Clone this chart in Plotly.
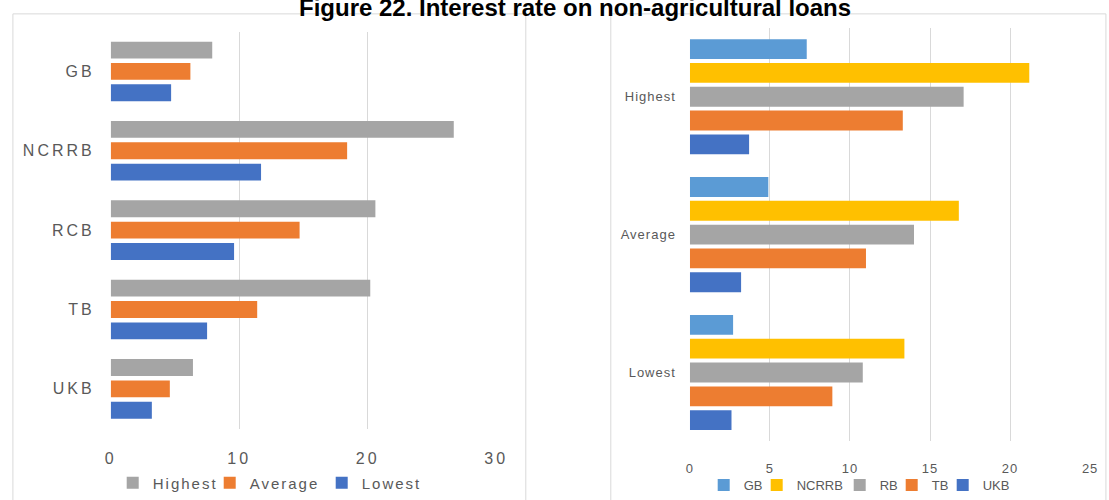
import plotly.graph_objects as go

# ---- data ----
left_banks = ["GB", "NCRRB", "RCB", "TB", "UKB"]
left_series = ["Highest", "Average", "Lowest"]
left_highest = [7.9, 26.7, 20.6, 20.2, 6.4]
left_average = [6.2, 18.4, 14.7, 11.4, 4.6]
left_lowest = [4.7, 11.7, 9.6, 7.5, 3.2]
left_ticks = [0, 10, 20, 30]

right_cats = ["Highest", "Average", "Lowest"]
right_series = ["GB", "NCRRB", "RB", "TB", "UKB"]
right_gb = [7.3, 4.9, 2.7]
right_ncrrb = [21.2, 16.8, 13.4]
right_rb = [17.1, 14.0, 10.8]
right_tb = [13.3, 11.0, 8.9]
right_ukb = [3.7, 3.2, 2.6]
right_ticks = [0, 5, 10, 15, 20, 25]

title = "Figure 22. Interest rate on non-agricultural loans"

W, H = 1109, 500
FONT = "Liberation Sans, Arial, sans-serif"
TXT = "#595959"
GRID = "#D9D9D9"

left_colors = ["#A5A5A5", "#ED7D31", "#4472C4"]
right_colors = ["#5B9BD5", "#FFC000", "#A5A5A5", "#ED7D31", "#4472C4"]
left_legend_widths = [52, 67, 62]
right_legend_widths = [8, 38, 7, 6, 30]

fig = go.Figure()

# left chart
left_vals = [left_highest, left_average, left_lowest]
lp, lw = 0.269, 0.2125
for i, (name, vals, col) in enumerate(zip(left_series, left_vals, left_colors)):
    fig.add_trace(go.Bar(
        x=vals, y=left_banks, orientation="h", name=name,
        marker=dict(color=col, line=dict(width=0)),
        width=lw, offset=(i - 1) * lp - lw / 2,
        xaxis="x", yaxis="y", legend="legend", legendwidth=left_legend_widths[i],
    ))

# right chart
right_vals = [right_gb, right_ncrrb, right_rb, right_tb, right_ukb]
rp, rw = 0.1727, 0.144
for i, (name, vals, col) in enumerate(zip(right_series, right_vals, right_colors)):
    fig.add_trace(go.Bar(
        x=vals, y=right_cats, orientation="h", name=name,
        marker=dict(color=col, line=dict(width=0)),
        width=rw, offset=(i - 2) * rp - rw / 2,
        xaxis="x2", yaxis="y2", legend="legend2", legendwidth=right_legend_widths[i],
    ))

def px_x(v):
    return v / W

def px_y(v):
    return 1 - v / H

fig.update_layout(
    width=W, height=H,
    margin=dict(l=0, r=0, t=0, b=0),
    paper_bgcolor="white", plot_bgcolor="white",
    barmode="overlay",
    font=dict(family=FONT, color=TXT),
    xaxis=dict(domain=[px_x(108), px_x(498)], range=[0, 30], tickvals=left_ticks,
               showgrid=True, gridcolor=GRID, gridwidth=1, zeroline=False,
               showline=False, ticks="", tickfont=dict(size=16, color=TXT),
               ticklabelstandoff=18, anchor="y", fixedrange=True),
    yaxis=dict(domain=[px_y(432), px_y(32)], autorange="reversed",
               showgrid=False, zeroline=False, showline=False, ticks="",
               tickfont=dict(size=16, color=TXT), ticklabelstandoff=15,
               anchor="x", fixedrange=True),
    xaxis2=dict(domain=[px_x(694), px_x(1099)], range=[0, 25], tickvals=right_ticks,
                showgrid=True, gridcolor=GRID, gridwidth=1, zeroline=False,
                showline=False, ticks="", tickfont=dict(size=13, color=TXT),
                ticklabelstandoff=18, anchor="y2", fixedrange=True),
    yaxis2=dict(domain=[px_y(445), px_y(28)], autorange="reversed",
                showgrid=False, zeroline=False, showline=False, ticks="",
                tickfont=dict(size=13, color=TXT), ticklabelstandoff=13,
                anchor="x2", fixedrange=True),
    legend=dict(orientation="h", x=px_x(110), xanchor="left", y=px_y(487), yanchor="middle",
                font=dict(size=15, color=TXT), bgcolor="rgba(0,0,0,0)",
                itemwidth=30, traceorder="normal"),
    legend2=dict(orientation="h", x=px_x(708), xanchor="left", y=px_y(489), yanchor="middle",
                 font=dict(size=13, color=TXT), bgcolor="rgba(0,0,0,0)",
                 itemwidth=30, traceorder="normal"),
    showlegend=True,
    annotations=[dict(text="<b>" + title + "</b>", x=px_x(578), y=px_y(8),
                      xref="paper", yref="paper", xanchor="center", yanchor="middle",
                      showarrow=False, font=dict(size=24, color="#000000", family=FONT))],
    shapes=[
        dict(type="rect", xref="paper", yref="paper", x0=px_x(9), x1=px_x(528),
             y0=px_y(505), y1=px_y(14), line=dict(color=GRID, width=1), layer="below"),
        dict(type="rect", xref="paper", yref="paper", x0=px_x(614), x1=px_x(1115),
             y0=px_y(505), y1=px_y(14), line=dict(color=GRID, width=1), layer="below"),
    ],
)

post = """
var s = document.createElement('style');
s.textContent = 'body{margin:0;overflow:hidden;}' +
  ' .xtick text, .ytick text {letter-spacing:3px;}' +
  ' .legend .legendtext {letter-spacing:2px;}' +
  ' .x2tick text, .y2tick text, .legend2 .legendtext {letter-spacing:1px;}';
document.head.appendChild(s);
"""

fig.write_html("out.html", post_script=post, config={"displayModeBar": False})
